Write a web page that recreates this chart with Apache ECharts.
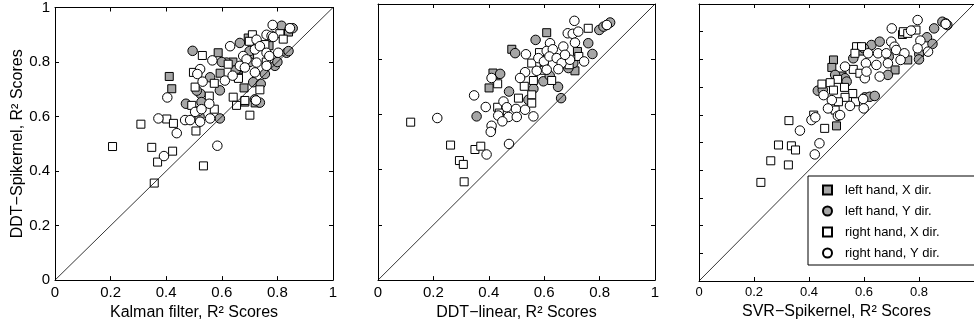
<!DOCTYPE html>
<html><head><meta charset="utf-8">
<script src="https://cdn.jsdelivr.net/npm/echarts@6/dist/echarts.min.js"></script>
<style>html,body{margin:0;padding:0;background:#fff}#c{width:974px;height:326px}</style>
</head><body><div id="c"></div>
<script>
// ---- labels / ticks ----
const tickValues = [0, 0.2, 0.4, 0.6, 0.8, 1];
const seriesNames = ['left hand, X dir.', 'left hand, Y dir.', 'right hand, X dir.', 'right hand, Y dir.'];
const xTitles = ['Kalman filter, R\u00B2 Scores', 'DDT\u2212linear, R\u00B2 Scores', 'SVR\u2212Spikernel, R\u00B2 Scores'];
const yTitle = 'DDT\u2212Spikernel, R\u00B2 Scores';
const diagonal = [[0, 0], [1, 1]];

// ---- panel 1: Kalman filter (x) vs DDT-Spikernel (y) ----
const p1LeftX = [[0.587,0.834],[0.411,0.747],[0.420,0.702],[0.680,0.705],[0.594,0.759],[0.660,0.750],[0.700,0.820],[0.770,0.860],[0.840,0.910],[0.683,0.653],[0.720,0.650],[0.640,0.800],[0.695,0.888]];
const p1LeftY = [[0.815,0.933],[0.845,0.924],[0.855,0.924],[0.665,0.870],[0.495,0.841],[0.617,0.798],[0.833,0.834],[0.791,0.786],[0.558,0.744],[0.755,0.756],[0.593,0.696],[0.524,0.683],[0.713,0.726],[0.471,0.647],[0.527,0.653],[0.719,0.663],[0.737,0.651],[0.593,0.593],[0.600,0.800],[0.700,0.800],[0.740,0.720],[0.740,0.860],[0.800,0.800],[0.840,0.840],[0.700,0.840],[0.520,0.600],[0.650,0.770],[0.720,0.880],[0.510,0.695]];
const p1RightX = [[0.710,0.900],[0.809,0.904],[0.821,0.884],[0.699,0.876],[0.755,0.864],[0.530,0.824],[0.623,0.792],[0.498,0.762],[0.573,0.722],[0.659,0.744],[0.504,0.708],[0.555,0.675],[0.737,0.698],[0.492,0.641],[0.641,0.671],[0.653,0.641],[0.683,0.659],[0.573,0.627],[0.402,0.591],[0.426,0.575],[0.701,0.605],[0.309,0.572],[0.507,0.547],[0.207,0.490],[0.348,0.487],[0.423,0.473],[0.369,0.433],[0.534,0.419],[0.357,0.356],[0.760,0.800],[0.660,0.740]];
const p1RightY = [[0.783,0.936],[0.845,0.924],[0.761,0.900],[0.779,0.896],[0.785,0.892],[0.725,0.882],[0.630,0.858],[0.566,0.806],[0.677,0.822],[0.689,0.810],[0.719,0.846],[0.737,0.858],[0.761,0.834],[0.771,0.822],[0.803,0.834],[0.665,0.786],[0.683,0.780],[0.725,0.798],[0.761,0.786],[0.522,0.774],[0.512,0.756],[0.404,0.670],[0.531,0.728],[0.611,0.732],[0.639,0.750],[0.719,0.762],[0.555,0.647],[0.723,0.659],[0.516,0.620],[0.504,0.617],[0.527,0.627],[0.468,0.587],[0.486,0.587],[0.522,0.581],[0.558,0.593],[0.372,0.593],[0.438,0.539],[0.584,0.493],[0.392,0.455]];

// ---- panel 2: DDT-linear (x) vs DDT-Spikernel (y) ----
const p2LeftX = [[0.609,0.896],[0.483,0.836],[0.711,0.758],[0.426,0.744],[0.401,0.696],[0.415,0.750],[0.600,0.780],[0.720,0.828],[0.410,0.551]];
const p2LeftY = [[0.799,0.906],[0.814,0.918],[0.826,0.924],[0.838,0.933],[0.569,0.870],[0.759,0.858],[0.495,0.822],[0.774,0.819],[0.705,0.786],[0.687,0.768],[0.441,0.747],[0.597,0.720],[0.561,0.693],[0.473,0.683],[0.543,0.653],[0.356,0.593],[0.661,0.659],[0.650,0.700],[0.680,0.800],[0.620,0.740]];
const p2RightX = [[0.759,0.912],[0.583,0.824],[0.725,0.810],[0.555,0.786],[0.432,0.711],[0.561,0.723],[0.627,0.723],[0.528,0.702],[0.507,0.659],[0.555,0.671],[0.555,0.641],[0.432,0.626],[0.438,0.605],[0.118,0.572],[0.262,0.489],[0.350,0.473],[0.371,0.485],[0.294,0.433],[0.308,0.419],[0.311,0.356],[0.600,0.760],[0.690,0.780]];
const p2RightY = [[0.709,0.939],[0.685,0.894],[0.703,0.892],[0.723,0.900],[0.621,0.858],[0.711,0.860],[0.534,0.818],[0.609,0.830],[0.631,0.836],[0.669,0.846],[0.579,0.804],[0.599,0.792],[0.619,0.810],[0.645,0.804],[0.663,0.786],[0.693,0.798],[0.675,0.816],[0.744,0.792],[0.573,0.758],[0.531,0.753],[0.609,0.762],[0.651,0.764],[0.410,0.732],[0.513,0.732],[0.347,0.669],[0.453,0.647],[0.389,0.627],[0.465,0.626],[0.498,0.620],[0.531,0.617],[0.434,0.596],[0.471,0.591],[0.501,0.591],[0.561,0.593],[0.449,0.575],[0.410,0.559],[0.407,0.537],[0.214,0.587],[0.473,0.493],[0.392,0.455],[0.826,0.924]];

// ---- panel 3: SVR-Spikernel (x) vs DDT-Spikernel (y) ----
const p3LeftX = [[0.759,0.798],[0.489,0.798],[0.483,0.771],[0.713,0.762],[0.500,0.560],[0.590,0.830],[0.740,0.890],[0.520,0.740]];
const p3LeftY = [[0.885,0.936],[0.897,0.930],[0.903,0.924],[0.855,0.912],[0.829,0.880],[0.849,0.856],[0.801,0.819],[0.627,0.852],[0.657,0.864],[0.561,0.804],[0.687,0.744],[0.531,0.732],[0.495,0.744],[0.537,0.720],[0.432,0.687],[0.603,0.663],[0.621,0.665],[0.639,0.668],[0.800,0.800],[0.690,0.810],[0.600,0.840],[0.450,0.690]];
const p3RightX = [[0.743,0.900],[0.759,0.894],[0.789,0.906],[0.573,0.846],[0.591,0.846],[0.567,0.822],[0.561,0.764],[0.585,0.750],[0.504,0.728],[0.447,0.711],[0.477,0.716],[0.529,0.699],[0.489,0.689],[0.559,0.677],[0.531,0.663],[0.507,0.647],[0.569,0.647],[0.495,0.617],[0.417,0.599],[0.327,0.579],[0.457,0.551],[0.289,0.491],[0.336,0.488],[0.351,0.473],[0.261,0.434],[0.325,0.419],[0.225,0.356]];
const p3RightY = [[0.795,0.942],[0.897,0.928],[0.701,0.912],[0.771,0.904],[0.805,0.868],[0.795,0.840],[0.833,0.828],[0.699,0.864],[0.711,0.846],[0.615,0.822],[0.651,0.822],[0.681,0.822],[0.717,0.834],[0.747,0.822],[0.531,0.774],[0.607,0.786],[0.645,0.780],[0.687,0.786],[0.733,0.798],[0.657,0.738],[0.603,0.732],[0.609,0.756],[0.453,0.671],[0.597,0.657],[0.483,0.653],[0.549,0.632],[0.599,0.623],[0.469,0.623],[0.505,0.596],[0.513,0.599],[0.409,0.581],[0.423,0.591],[0.367,0.543],[0.438,0.497],[0.421,0.457]];

const panels = [
  [p1LeftX, p1LeftY, p1RightX, p1RightY],
  [p2LeftX, p2LeftY, p2RightX, p2RightY],
  [p3LeftX, p3LeftY, p3RightX, p3RightY]
];

const FONT = "'Liberation Sans', Arial, Helvetica, sans-serif";
const GRAY = '#a6a6a6';
const markerStyles = [
  { symbol: 'rect', size: 8, color: GRAY },
  { symbol: 'circle', size: 9.5, color: GRAY },
  { symbol: 'rect', size: 8, color: '#ffffff' },
  { symbol: 'circle', size: 9.5, color: '#ffffff' }
];

const grids = [
  { left: 55, top: 4, width: 278, height: 277 },
  { left: 378, top: 4, width: 277, height: 277 },
  { left: 699, top: 4, width: 278, height: 277 }
];
const labelSizes = [15, 15, 13];

const xAxes = [], yAxes = [], series = [];
const lineCfg = { show: true, onZero: false, lineStyle: { color: '#000', width: 1 } };
const tickCfg = { show: true, inside: true, length: 4, lineStyle: { color: '#000', width: 1 } };

grids.forEach((g, i) => {
  xAxes.push({
    gridIndex: i, type: 'value', min: 0, max: 1, interval: 0.2, position: 'bottom',
    axisLine: lineCfg, axisTick: tickCfg, splitLine: { show: false },
    axisLabel: { show: true, margin: 5, fontSize: labelSizes[i], color: '#000', fontFamily: FONT,
      showMaxLabel: i !== 2, formatter: v => String(+v.toFixed(1)) },
    name: xTitles[i], nameLocation: 'middle', nameGap: 23,
    nameTextStyle: { fontSize: 16, color: '#000', fontFamily: FONT }
  });
  xAxes.push({
    gridIndex: i, type: 'value', min: 0, max: 1, interval: 0.2, position: 'top',
    axisLine: lineCfg, axisTick: tickCfg, splitLine: { show: false }, axisLabel: { show: false }
  });
  const yInt = i === 2 ? 0.1 : 0.2;
  yAxes.push({
    gridIndex: i, type: 'value', min: 0, max: 1, interval: yInt, position: 'left',
    axisLine: lineCfg, axisTick: tickCfg, splitLine: { show: false },
    axisLabel: { show: i === 0, margin: 5, fontSize: labelSizes[i], color: '#000', fontFamily: FONT,
      formatter: v => String(+v.toFixed(1)) },
    name: i === 0 ? yTitle : '', nameLocation: 'middle', nameGap: 28,
    nameTextStyle: { fontSize: 16, color: '#000', fontFamily: FONT }
  });
  yAxes.push({
    gridIndex: i, type: 'value', min: 0, max: 1, interval: yInt, position: 'right',
    show: i !== 2,
    axisLine: lineCfg, axisTick: tickCfg, splitLine: { show: false }, axisLabel: { show: false }
  });

  panels[i].forEach((data, k) => {
    const m = markerStyles[k];
    series.push({
      type: 'scatter', name: seriesNames[k], xAxisIndex: 2 * i, yAxisIndex: 2 * i,
      data: data, symbol: m.symbol, symbolSize: m.size, z: 2 + k,
      itemStyle: { color: m.color, borderColor: '#000', borderWidth: 1, opacity: 1 },
      emphasis: { disabled: true }, silent: true
    });
  });
  series.push({
    type: 'line', name: 'diag' + i, xAxisIndex: 2 * i, yAxisIndex: 2 * i,
    data: diagonal, symbol: 'none', silent: true, z: 10,
    lineStyle: { color: '#000', width: 0.8 }
  });
});

const chart = echarts.init(document.getElementById('c'), null, { renderer: 'canvas' });
chart.setOption({
  animation: false,
  backgroundColor: '#fff',
  grid: grids,
  xAxis: xAxes,
  yAxis: yAxes,
  legend: {
    data: seriesNames, orient: 'vertical', left: 808, top: 176,
    itemWidth: 9, itemHeight: 9, itemGap: 7,
    padding: [7, 40, 5, 14],
    borderColor: '#000', borderWidth: 1, backgroundColor: '#fff',
    selectedMode: false, z: 20,
    textStyle: { fontSize: 13, color: '#000', fontFamily: FONT, lineHeight: 14, padding: [0, 0, 0, 8] }
  },
  series: series
});
</script>
</body></html>
